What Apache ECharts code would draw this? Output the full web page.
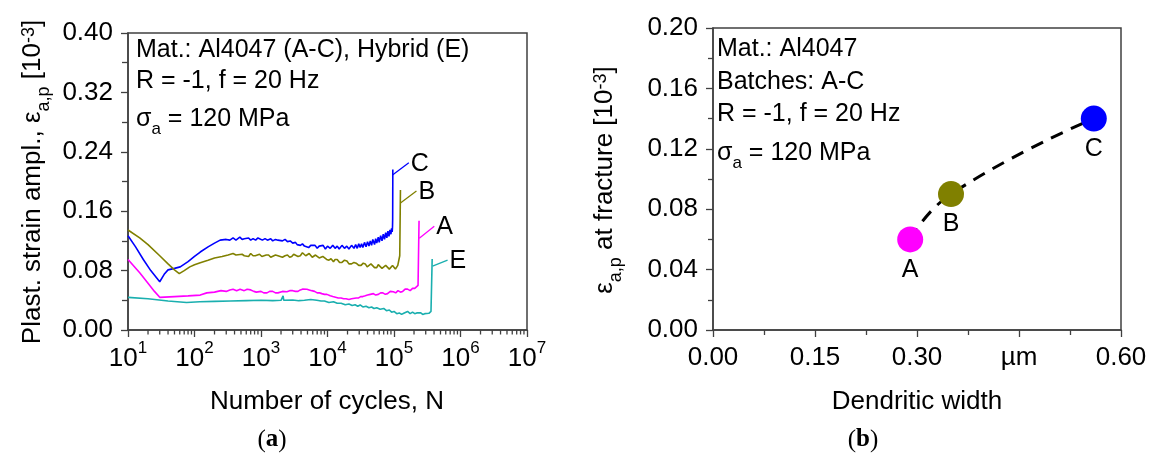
<!DOCTYPE html>
<html><head><meta charset="utf-8">
<script src="https://cdn.jsdelivr.net/npm/echarts@6/dist/echarts.min.js"></script>
<style>html,body{margin:0;padding:0;background:#fff}#c{width:1156px;height:455px}</style>
</head><body><div id="c"></div>
<script>
// ---------- Panel (a): plastic strain amplitude vs cycles ----------
const curveC = [[10,0.127],[13,0.112],[17,0.095],[22,0.080],[30,0.065],[35,0.075],[40,0.081],[50,0.083],[61,0.085],[80,0.092],[100,0.099],[122,0.105],[160,0.112],[200,0.117],[243,0.121],[300,0.122],[340,0.121],[380,0.124],[420,0.121],[480,0.125],[520,0.122],[560,0.123],[650,0.124],[700,0.121],[760,0.123],[830,0.121],[900,0.124],[1050,0.121],[1150,0.123],[1250,0.121],[1400,0.123],[1500,0.120],[1650,0.122],[1800,0.121],[2100,0.120],[2300,0.122],[2500,0.119],[2750,0.120],[3000,0.117],[3300,0.118],[3500,0.115],[3900,0.114],[4200,0.116],[4500,0.113],[4800,0.115],[5200,0.111],[5600,0.114],[6000,0.112],[6500,0.114],[7000,0.110],[7500,0.113],[8000,0.111],[8600,0.114],[9300,0.109],[10000,0.113],[11000,0.110],[12000,0.114],[13000,0.110],[14000,0.113],[15000,0.109],[16500,0.114],[18000,0.110],[19500,0.113],[21000,0.109],[23000,0.114],[25000,0.110],[26500,0.115],[28000,0.110],[29500,0.116],[31000,0.111],[32500,0.116],[34000,0.111],[36000,0.118],[38000,0.112],[40000,0.119],[42000,0.113],[44000,0.120],[46000,0.114],[48000,0.122],[51000,0.115],[53000,0.123],[55000,0.117],[58000,0.125],[60000,0.118],[63000,0.127],[66000,0.120],[69000,0.129],[72000,0.122],[75000,0.131],[78000,0.124],[81000,0.133],[84000,0.126],[87000,0.135],[90000,0.129],[92000,0.137],[94000,0.132],[95000,0.139],[95500,0.150],[96000,0.216]];
const curveB = [[10,0.1347],[15,0.124],[20,0.115],[30,0.100],[40,0.089],[50,0.081],[59,0.076],[70,0.080],[85,0.085],[100,0.088],[122,0.0907],[160,0.094],[200,0.097],[260,0.099],[320,0.101],[380,0.103],[420,0.101],[450,0.100],[520,0.102],[560,0.100],[600,0.101],[650,0.099],[700,0.103],[760,0.100],[820,0.100],[950,0.102],[1030,0.099],[1100,0.099],[1200,0.101],[1300,0.101],[1400,0.098],[1500,0.098],[1650,0.101],[1800,0.100],[2100,0.098],[2300,0.100],[2500,0.101],[2700,0.098],[2900,0.099],[3100,0.102],[3300,0.103],[3600,0.099],[3900,0.100],[4200,0.104],[4400,0.105],[4700,0.100],[5000,0.099],[5300,0.103],[5600,0.103],[5900,0.098],[6300,0.097],[6600,0.101],[7000,0.101],[7500,0.097],[8000,0.096],[8500,0.099],[9000,0.099],[9700,0.095],[10500,0.094],[11300,0.096],[12300,0.092],[13000,0.095],[14000,0.095],[15200,0.091],[16500,0.091],[18000,0.094],[19600,0.093],[21000,0.089],[23000,0.089],[25000,0.091],[27000,0.090],[29500,0.087],[32000,0.087],[34500,0.090],[37000,0.089],[39500,0.085],[42000,0.085],[45000,0.089],[48000,0.088],[51000,0.084],[55000,0.084],[58000,0.088],[62000,0.087],[66000,0.083],[70000,0.083],[75000,0.087],[80000,0.086],[85000,0.082],[90000,0.082],[95000,0.087],[100000,0.086],[105000,0.082],[110000,0.083],[114000,0.087],[118000,0.088],[122000,0.100],[125000,0.1886]];
const curveA = [[10,0.095],[15,0.077],[20,0.063],[25,0.052],[30,0.044],[50,0.045],[80,0.046],[122,0.047],[153,0.050],[200,0.051],[250,0.053],[300,0.052],[340,0.054],[380,0.055],[430,0.053],[485,0.055],[560,0.053],[620,0.055],[700,0.054],[780,0.052],[850,0.051],[1000,0.052],[1100,0.050],[1230,0.050],[1350,0.052],[1500,0.052],[1650,0.050],[1800,0.050],[2100,0.052],[2450,0.0516],[2700,0.053],[3000,0.053],[3300,0.052],[3600,0.052],[3900,0.054],[4200,0.055],[4500,0.054],[4900,0.0548],[5300,0.054],[5800,0.053],[6400,0.052],[7000,0.050],[7600,0.050],[8200,0.049],[9000,0.048],[9800,0.048],[11000,0.046],[12000,0.045],[13200,0.044],[14500,0.043],[16000,0.043],[17500,0.042],[19000,0.042],[21000,0.041],[23000,0.042],[24600,0.041],[27000,0.043],[29000,0.043],[31500,0.045],[34000,0.045],[37000,0.046],[40000,0.047],[44000,0.048],[49000,0.049],[53000,0.047],[58000,0.048],[63000,0.050],[68000,0.050],[74000,0.048],[80000,0.049],[88000,0.052],[98000,0.0516],[106000,0.050],[115000,0.053],[125000,0.051],[135000,0.052],[147000,0.055],[160000,0.055],[175000,0.053],[190000,0.056],[205000,0.056],[215000,0.058],[230000,0.060],[238000,0.147]];
const curveE = [[10,0.044],[20,0.042],[40,0.039],[76,0.037],[120,0.038],[200,0.0385],[350,0.039],[600,0.0395],[1000,0.040],[1500,0.0395],[2000,0.040],[2150,0.046],[2200,0.040],[3000,0.0405],[3700,0.0395],[4500,0.040],[5600,0.041],[6900,0.040],[8000,0.039],[9000,0.039],[10500,0.037],[12300,0.038],[14000,0.036],[16000,0.036],[18500,0.034],[21000,0.035],[23500,0.033],[26000,0.034],[28500,0.032],[31000,0.0337],[34000,0.031],[38000,0.032],[42000,0.030],[46000,0.031],[50000,0.029],[55000,0.030],[62000,0.028],[70000,0.029],[77000,0.026],[85000,0.027],[92000,0.024],[100000,0.025],[110000,0.022],[120000,0.023],[130000,0.021],[140000,0.0225],[150000,0.024],[160000,0.025],[175000,0.022],[190000,0.024],[205000,0.022],[220000,0.023],[235000,0.021],[250000,0.0233],[270000,0.021],[290000,0.022],[310000,0.020],[335000,0.0225],[350000,0.021],[360000,0.025],[375000,0.0956]];
const curveNames = ['C','B','A','E'];
// label anchor points on the final (fracture) segment of each curve
const labelAnchors = [[96000,0.209],[125000,0.171],[240000,0.1235],[380000,0.086]];
const logMinorTicks = [];
for (let d = 1; d < 7; d++) for (let k = 2; k <= 9; k++) logMinorTicks.push(k * Math.pow(10, d));

// ---------- Panel (b): strain at fracture vs dendritic width ----------
const batches = ['A','B','C'];
const dendriticWidth = [0.29, 0.35, 0.56];
const strainAtFracture = [0.06, 0.09, 0.14];
const xTickLabelsB = ['0.00','0.15','0.30','\u00b5m','0.60'];

// ---------- styles ----------
const FONT = "'Liberation Sans', Arial, sans-serif";
const AX = '#404040';
const colors = {C:'#0000FF', B:'#808000', A:'#FF00FF', E:'#1AAFAF'};
const FS = 25;
const TFS = 26;
const richBase = {
  n: {fontSize: TFS, fontFamily: FONT, color:'#000', lineHeight: 32, verticalAlign:'bottom'},
  sup: {fontSize: 17, fontFamily: FONT, color:'#000', lineHeight: 17, verticalAlign:'top'},
  sub: {fontSize: 17, fontFamily: FONT, color:'#000', lineHeight: 17, verticalAlign:'top', padding:[14,0,0,0]},
  m: {fontSize: FS, fontFamily: FONT, color:'#000', lineHeight: 25, verticalAlign:'top'}
};
const richTitle = {
  sup: {fontSize: 18, fontFamily: FONT, color:'#000', lineHeight: 18, verticalAlign:'top'},
  sub: {fontSize: 18, fontFamily: FONT, color:'#000', lineHeight: 18, verticalAlign:'top', padding:[15,0,0,0]},
  m: {fontSize: 26, fontFamily: FONT, color:'#000', lineHeight: 26, verticalAlign:'top'}
};

const curves = [curveC, curveB, curveA, curveE];
const series = curves.map((c, i) => ({
  type:'line', xAxisIndex:0, yAxisIndex:0, data:c, showSymbol:false, symbol:'none',
  lineStyle:{color:colors[curveNames[i]], width:1.6}, animation:false, z:3
}));

series.push({
  type:'custom', xAxisIndex:0, yAxisIndex:0, animation:false, silent:true, z:4,
  data: logMinorTicks.map(v => [v, 0]), clip:false,
  renderItem: (params, api) => {
    const p = api.coord([api.value(0), 0]);
    return {type:'line', shape:{x1:p[0], y1:p[1], x2:p[0], y2:p[1]+4.5}, style:{stroke:AX, lineWidth:1.3}};
  }
});

const leader = {C:[16,-12], B:[16,-12], A:[15,-12], E:[15,-6]};
series.push({
  type:'custom', xAxisIndex:0, yAxisIndex:0, animation:false, silent:true, z:5, clip:false,
  data: labelAnchors,
  renderItem: (params, api) => {
    const name = curveNames[params.dataIndex];
    const p = api.coord([api.value(0), api.value(1)]);
    const d = leader[name];
    return {type:'group', children:[
      {type:'line', shape:{x1:p[0], y1:p[1], x2:p[0]+d[0], y2:p[1]+d[1]}, style:{stroke:colors[name], lineWidth:1.3}},
      {type:'text', style:{text:name, x:p[0]+d[0]+2, y:p[1]+d[1]+1, fontSize:FS, fontFamily:FONT, fill:'#000', align:'left', verticalAlign:'middle', textAlign:'left', textVerticalAlign:'middle'}}
    ]};
  }
});

series.push({
  type:'line', xAxisIndex:1, yAxisIndex:1, animation:false, z:2,
  data: dendriticWidth.map((w, i) => [w, strainAtFracture[i]]),
  smooth:0.5, symbol:'none', lineStyle:{color:'#000', width:3, type:[13,9]}
});
series.push({
  type:'scatter', xAxisIndex:1, yAxisIndex:1, animation:false, z:5, symbolSize:26,
  data: dendriticWidth.map((w, i) => ({value:[w, strainAtFracture[i]], itemStyle:{color:colors[batches[i]], opacity:1}})),
  itemStyle:{opacity:1},
  label:{show:true, position:'bottom', distance:5, formatter:(p) => batches[p.dataIndex], fontSize:FS, fontFamily:FONT, color:'#000', opacity:1}
});

function txt(x, y, text, extra) {
  return Object.assign({type:'text', x:x, y:y, z:10, style:{text:text, rich:richBase, fontSize:FS, fontFamily:FONT, fill:'#000', align:'left', verticalAlign:'middle', textAlign:'left', textVerticalAlign:'middle'}}, extra || {});
}
function ctr(text, rich, fs, ff) {
  return {text:text, rich:rich, fontSize:fs || FS, fontFamily:ff || FONT, fill:'#000', align:'center', verticalAlign:'middle', textAlign:'center', textVerticalAlign:'middle'};
}
const serifRich = {p:{fontSize:25, fontFamily:"'Liberation Serif', serif", color:'#000'}, b:{fontSize:25, fontWeight:'bold', fontFamily:"'Liberation Serif', serif", color:'#000'}};

const option = {
  backgroundColor:'#fff',
  animation:false,
  grid:[
    {left:128, top:33, width:399, height:297, show:true, borderColor:AX, borderWidth:1.5, backgroundColor:'transparent'},
    {left:713, top:28, width:408, height:302, show:true, borderColor:AX, borderWidth:1.5, backgroundColor:'transparent'}
  ],
  xAxis:[
    {type:'log', gridIndex:0, min:10, max:1e7, logBase:10,
     axisLine:{lineStyle:{color:AX, width:1.5}}, axisTick:{length:7, lineStyle:{color:AX, width:1.3}},
     splitLine:{show:false},
     axisLabel:{margin:10, formatter:(v) => '{n|10}{sup|' + Math.round(Math.log10(v)) + '}', rich:richBase, color:'#000'}},
    {type:'value', gridIndex:1, min:0, max:0.6, interval:0.15,
     axisLine:{lineStyle:{color:AX, width:1.5}}, axisTick:{length:7, lineStyle:{color:AX, width:1.3}},
     minorTick:{show:true, splitNumber:2, length:5, lineStyle:{color:AX, width:1.3}},
     splitLine:{show:false},
     axisLabel:{margin:15, fontSize:TFS, fontFamily:FONT, color:'#000', formatter:(v) => xTickLabelsB[Math.round(v / 0.15)]}}
  ],
  yAxis:[
    {type:'value', gridIndex:0, min:0, max:0.4, interval:0.08,
     axisLine:{lineStyle:{color:AX, width:1.5}}, axisTick:{length:7, lineStyle:{color:AX, width:1.3}},
     minorTick:{show:true, splitNumber:2, length:6, lineStyle:{color:AX, width:1.3}},
     splitLine:{show:false},
     axisLabel:{margin:15, fontSize:TFS, fontFamily:FONT, color:'#000', formatter:(v) => v.toFixed(2)}},
    {type:'value', gridIndex:1, min:0, max:0.2, interval:0.04,
     axisLine:{lineStyle:{color:AX, width:1.5}}, axisTick:{length:7, lineStyle:{color:AX, width:1.3}},
     minorTick:{show:true, splitNumber:2, length:5, lineStyle:{color:AX, width:1.3}},
     splitLine:{show:false},
     axisLabel:{margin:15, fontSize:TFS, fontFamily:FONT, color:'#000', formatter:(v) => v.toFixed(2)}}
  ],
  graphic:[
    // panel (a) annotation
    txt(136, 50, 'Mat.: Al4047 (A-C), Hybrid (E)'),
    txt(136, 81, 'R = -1, f = 20 Hz'),
    txt(136, 119, '{m|\u03c3}{sub|a}{m| = 120 MPa}'),
    // panel (b) annotation
    txt(717, 49, 'Mat.: Al4047'),
    txt(717, 82, 'Batches: A-C'),
    txt(717, 114, 'R = -1, f = 20 Hz'),
    txt(717, 153, '{m|\u03c3}{sub|a}{m| = 120 MPa}'),
    // axis titles
    txt(33, 182, '', {rotation:Math.PI/2, style:ctr('{m|Plast. strain ampl., \u03b5}{sub|a,p}{m| [10}{sup|-3}{m|]}', richTitle)}),
    txt(605, 180, '', {rotation:Math.PI/2, style:ctr('{m|\u03b5}{sub|a,p}{m| at fracture [10}{sup|-3}{m|]}', richTitle)}),
    txt(327, 402, '', {style:ctr('Number of cycles, N', null, 26)}),
    txt(917, 402, '', {style:ctr('Dendritic width', null, 26)}),
    txt(272, 440, '', {style:ctr('{p|(}{b|a}{p|)}', serifRich, 25, "'Liberation Serif', serif")}),
    txt(863, 440, '', {style:ctr('{p|(}{b|b}{p|)}', serifRich, 25, "'Liberation Serif', serif")})
  ],
  series: series
};
const chart = echarts.init(document.getElementById('c'), null, {renderer:'canvas'});
chart.setOption(option);
</script>
</body></html>
